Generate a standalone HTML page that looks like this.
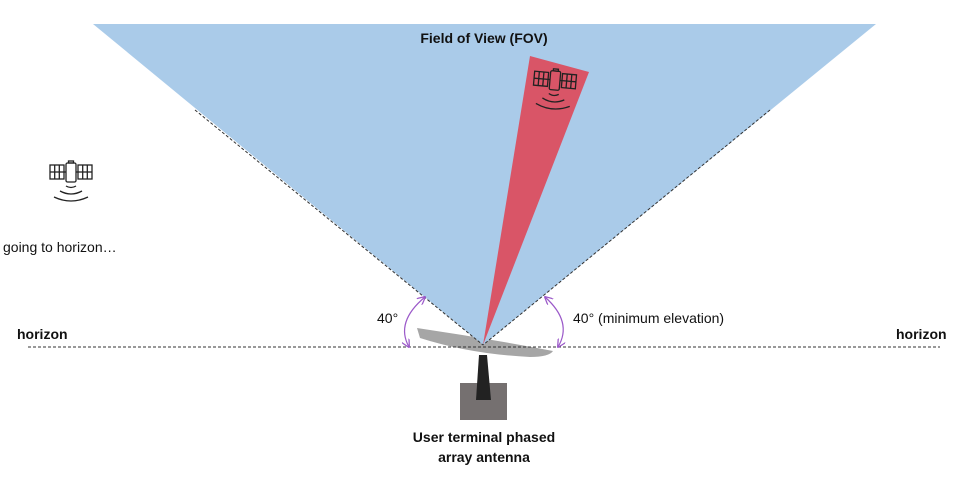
<!DOCTYPE html>
<html><head><meta charset="utf-8"><style>
html,body{margin:0;padding:0;background:#fff;}
svg{display:block;}
text{font-family:"Liberation Sans",Calibri,sans-serif;}
</style></head><body>
<svg width="960" height="480" viewBox="0 0 960 480" xmlns="http://www.w3.org/2000/svg">
<defs>
<g id="sat" fill="none" stroke="#222" stroke-width="1.3">
  <rect x="-21" y="-7" width="14" height="14"/>
  <line x1="-16.3" y1="-7" x2="-16.3" y2="7"/><line x1="-11.7" y1="-7" x2="-11.7" y2="7"/><line x1="-21" y1="0" x2="-7" y2="0"/>
  <rect x="7" y="-7" width="14" height="14"/>
  <line x1="11.7" y1="-7" x2="11.7" y2="7"/><line x1="16.3" y1="-7" x2="16.3" y2="7"/><line x1="7" y1="0" x2="21" y2="0"/>
  <line x1="-7" y1="0" x2="-5" y2="0"/><line x1="5" y1="0" x2="7" y2="0"/>
  <rect x="-5" y="-9" width="10" height="19" rx="1.5"/>
  <rect x="-2.5" y="-11" width="5" height="2"/>
  <path d="M-5 14 Q0 17 5 14"/>
  <path d="M-11 19 Q0 25 11 19"/>
  <path d="M-17 25 Q0 33 17 25"/>
</g>
<marker id="ar" viewBox="0 0 10 10" refX="9" refY="5" markerWidth="7" markerHeight="7" orient="auto-start-reverse">
  <path d="M0 0 L10 5 L0 10" fill="none" stroke="#9b59c9" stroke-width="1.5"/>
</marker>
</defs>
<path d="M417,328 Q485,338 553,351 Q549,357 530,357 Q470,354 420,338 Z" fill="#a6a6a6"/>
<polygon points="93,24 876,24 483,345" fill="#a5c8e8" opacity="0.95"/>
<polygon points="530,56 589,72 483,345" fill="#d95567"/>
<line x1="195" y1="110" x2="483" y2="345" stroke="#333" stroke-width="1" stroke-dasharray="3,2"/>
<line x1="770" y1="110" x2="483" y2="345" stroke="#333" stroke-width="1" stroke-dasharray="3,2"/>
<text x="484" y="43" font-size="14" font-weight="bold" text-anchor="middle" fill="#111">Field of View (FOV)</text>
<g transform="translate(555,80) rotate(5)"><use href="#sat"/></g>
<use href="#sat" transform="translate(71,172)"/>
<text x="3" y="252" font-size="14" fill="#111">going to horizon…</text>
<text x="17" y="339" font-size="14" font-weight="bold" fill="#111">horizon</text>
<text x="896" y="339" font-size="14" font-weight="bold" fill="#111">horizon</text>
<line x1="28" y1="347" x2="940" y2="347" stroke="#333" stroke-width="1" stroke-dasharray="3,2"/>
<rect x="460" y="383" width="47" height="37" fill="#757070"/>
<polygon points="479,355 487,355 491,400 476,400" fill="#222"/>
<path d="M425,297 Q395,322 409,347" fill="none" stroke="#9b59c9" stroke-width="1.2" marker-start="url(#ar)" marker-end="url(#ar)"/>
<path d="M545,297 Q573,322 558,347" fill="none" stroke="#9b59c9" stroke-width="1.2" marker-start="url(#ar)" marker-end="url(#ar)"/>
<text x="377" y="323" font-size="14" fill="#111">40°</text>
<text x="573" y="323" font-size="14" fill="#111">40° (minimum elevation)</text>
<text x="484" y="442" font-size="14" font-weight="bold" text-anchor="middle" fill="#111">User terminal phased</text>
<text x="484" y="462" font-size="14" font-weight="bold" text-anchor="middle" fill="#111">array antenna</text>
</svg>
</body></html>
